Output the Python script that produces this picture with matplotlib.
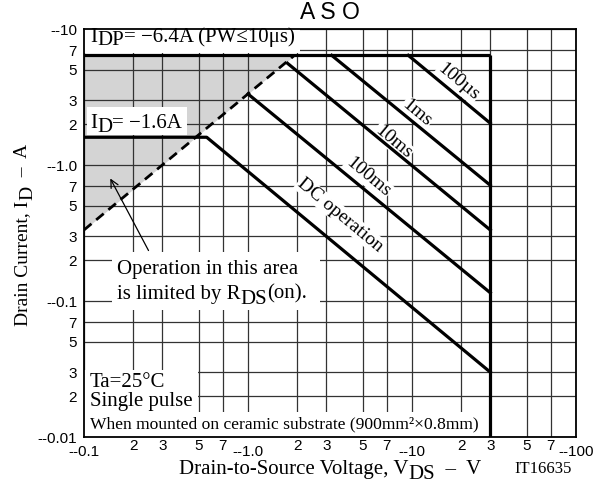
import math
import matplotlib
matplotlib.use("Agg")
import matplotlib.pyplot as plt
from matplotlib.patches import Rectangle

plt.rcParams['font.family'] = ['Liberation Serif', 'DejaVu Serif']

# ASO limits, magnitudes (V, A)
idp_v = [0.1, 30]
idp_i = [6.4, 6.4]
vmax_v = [30, 30]
vmax_i = [6.4, 0.01]
rds_v = [0.1, 1.92]
rds_i = [0.333, 6.4]
dc_v = [0.1, 0.56, 30]
dc_i = [1.6, 1.6, 0.030]
pulse_names = ["100µs", "1ms", "10ms", "100ms"]
pulse_v = [[9.5, 30], [3.24, 30], [1.74, 30], [1.0, 30]]
pulse_i = [[6.4, 2.03], [6.4, 0.71], [5.6, 0.333], [3.33, 0.115]]

x_major = [0.1, 1, 10, 100]
x_major_lbl = ["--0.1", "--1.0", "--10", "--100"]
y_major = [0.01, 0.1, 1, 10]
y_major_lbl = ["--0.01", "--0.1", "--1.0", "--10"]
minor_steps = [2, 3, 5, 7]

fig = plt.figure(figsize=(6.06, 4.86), dpi=100)
ax = fig.add_axes([0.1386, 0.1008, 0.8119, 0.8395])
ax.set_xscale('log')
ax.set_yscale('log')
ax.set_xlim(0.1, 100)
ax.set_ylim(0.01, 10)

x_minor = [d * s for d in x_major[:-1] for s in minor_steps]
y_minor = [d * s for d in y_major[:-1] for s in minor_steps]
ax.set_xticks(x_major, x_major_lbl)
ax.set_xticks(x_minor, [str(s) for _ in x_major[:-1] for s in minor_steps], minor=True)
ax.set_yticks(y_major, y_major_lbl)
ax.set_yticks(y_minor, [str(s) for _ in y_major[:-1] for s in minor_steps], minor=True)
for lbl in ax.get_xticklabels(which='both') + ax.get_yticklabels(which='both'):
    lbl.set_fontfamily('Liberation Sans')
    lbl.set_fontsize(11)
ax.tick_params(which='both', length=0)
ax.tick_params(axis='x', which='major', pad=6)
ax.tick_params(axis='x', which='minor', pad=1.5)
ax.tick_params(axis='y', which='both', pad=5)
ax.grid(which='both', color='#333333', lw=0.9)
for sp in ax.spines.values():
    sp.set_linewidth(1.3)

# area limited by on-resistance
ax.fill_between(rds_v, rds_i, 6.4, color='#d4d4d4', lw=0, zorder=1)
ax.plot(rds_v, rds_i, color='black', lw=2, ls=(0, (3.5, 2.2)), zorder=2.5)

lw = 2.3
ax.plot(idp_v, idp_i, color='black', lw=lw, zorder=2.5, solid_capstyle='butt')
ax.plot(vmax_v, vmax_i, color='black', lw=lw, zorder=2.5, solid_capstyle='butt')
ax.plot(dc_v, dc_i, color='black', lw=lw, zorder=2.5)
for v, i in zip(pulse_v, pulse_i):
    ax.plot(v, i, color='black', lw=lw, zorder=2.5)

# rotate curve labels along the -1 slope in display space
bb = ax.get_position()
w_px = bb.width * fig.get_figwidth()
h_px = bb.height * fig.get_figheight()
rot = -math.degrees(math.atan2(h_px / 3, w_px / 3))

wbox = dict(facecolor='white', edgecolor='none', pad=0.5)
curve_lbl_pos = [(19.1, 4.07), (10.7, 2.41), (7.66, 1.48), (5.39, 0.816), (3.64, 0.429)]
for name, (x, y) in zip(pulse_names + ["DC operation"], curve_lbl_pos):
    ax.text(x, y, name, rotation=rot, rotation_mode='anchor', ha='center', va='center',
            fontsize=14, bbox=wbox, zorder=2.2)


def sub_text(x, y, parts, fontsize, transform, rotation=0, zorder=4):
    """Write text pieces side by side; each piece is (string, drop in points)."""
    prev = ax.text(x, y, parts[0][0], fontsize=fontsize, ha='left', va='baseline',
                   rotation=rotation, rotation_mode='anchor', transform=transform,
                   zorder=zorder)
    prev_drop = parts[0][1]
    for s, drop in parts[1:]:
        rel = drop - prev_drop
        if rotation == 0:
            xy, off = (1, 0), (0, -rel)
        else:
            xy, off = (0, 1), (rel, 0)
        prev = ax.annotate(s, xy=xy, xycoords=prev, xytext=off, textcoords='offset points',
                           fontsize=fontsize, ha='left', va='bottom', rotation=rotation,
                           zorder=zorder)
        prev_drop = drop
    return prev


def white_box(x0, y0, x1, y1):
    ax.add_patch(Rectangle((x0, y0), x1 - x0, y1 - y0, transform=ax.transAxes,
                           facecolor='white', edgecolor='none', zorder=2.2))


white_box(0.0, 0.941, 0.439, 1.0)
white_box(0.006, 0.740, 0.209, 0.809)
white_box(0.057, 0.311, 0.48, 0.453)
white_box(0.0, 0.061, 0.232, 0.164)
white_box(0.0, 0.0, 0.821, 0.061)

sub_text(0.1088, 8.02, [("I", 0), ("DP", 2), ("= −6.4A (PW≤10μs)", 0)], 15, ax.transData)
sub_text(0.1088, 1.87, [("I", 0), ("D", 2.8), ("= −1.6A", 0)], 15, ax.transData)
sub_text(0.159, 0.158, [("Operation in this area", 0)], 15, ax.transData)
sub_text(0.159, 0.1035, [("is limited by R", 0), ("DS", 3.6), ("(on).", 0)], 15, ax.transData)
ax.annotate("", xy=(0.142, 0.83), xytext=(0.252, 0.2255),
            arrowprops=dict(arrowstyle='->', color='black', lw=0.9, mutation_scale=14), zorder=4)

sub_text(0.1088, 0.0233, [("Ta=25°C", 0)], 15, ax.transData)
sub_text(0.1088, 0.0169, [("Single pulse", 0)], 15, ax.transData)
sub_text(0.1088, 0.01164, [("When mounted on ceramic substrate (900mm²×0.8mm)", 0)], 12.6,
         ax.transData)

fig.text(0.544, 0.998, "A S O", fontfamily='Liberation Sans', fontsize=16.5, ha='center',
         va='top')
sub_text(0.295, 0.024, [("Drain-to-Source Voltage, V", 0), ("DS", 3.5), ("  –  V", 0)], 15,
         fig.transFigure)
fig.text(0.896, 0.026, "IT16635", fontsize=12, ha='center', va='baseline')
sub_text(0.045, 0.33, [("Drain Current, I", 0), ("D", 3.5), ("  –  A", 0)], 14,
         fig.transFigure, rotation=90)

fig.savefig("out.png", dpi=100)
